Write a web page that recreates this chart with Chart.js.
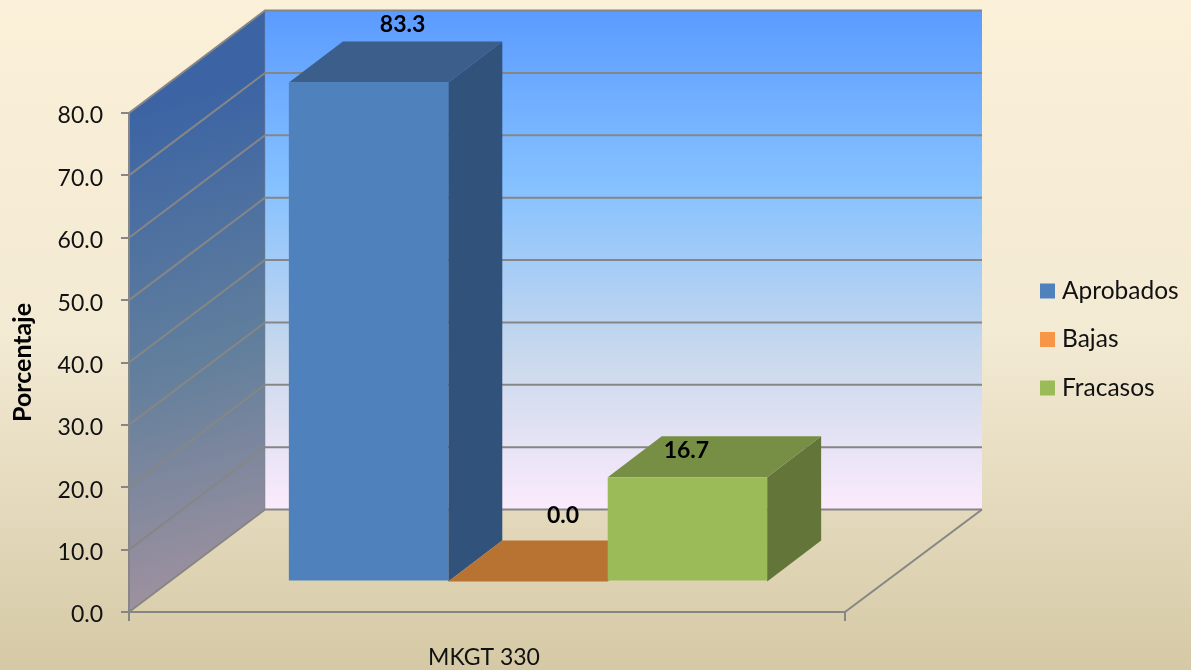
<!DOCTYPE html>
<html>
<head>
<meta charset="utf-8">
<title>MKGT 330</title>
<script src="https://cdn.jsdelivr.net/npm/chart.js@4/dist/chart.umd.min.js"></script>
<style>
html, body { margin: 0; padding: 0; background: #f3ead4; }
#wrap { width: 1191px; height: 670px; }
</style>
</head>
<body>
<div id="wrap"><canvas id="grafico"></canvas></div>
<script>
// datos
const categorias = ['MKGT 330'];
const seriesNombres = ['Aprobados', 'Bajas', 'Fracasos'];
const aprobados = [83.3];
const bajas = [0.0];
const fracasos = [16.7];
const escalaMax = 80;
const escalaPaso = 10;

// colores: frente, tapa, lado, leyenda
const coloresFrente = ['#4f81bd', '#b87333', '#9bbb59'];
const coloresTapa = ['#3b5f8a', '#b87333', '#778f45'];
const coloresLado = ['#31527a', '#b87333', '#637538'];
const coloresLeyenda = ['#4f81bd', '#f79646', '#9bbb59'];
const colorRejilla = '#868686';
const fuente = 'Lato, "Open Sans", sans-serif';

// profundidad de la caja 3D y de las barras
const fondoX = 136, fondoY = -102.5;
const barraX = 41, barraY = -30.5;
const barraProfX = 54, barraProfY = -41;
// ajuste de las etiquetas respecto al centro de la tapa
const ajusteEtiquetas = [[34, -58], [35, -66], [-1, -27]];

function poligono(ctx, puntos, relleno, borde) {
    ctx.beginPath();
    puntos.forEach((p, i) => i ? ctx.lineTo(p[0], p[1]) : ctx.moveTo(p[0], p[1]));
    ctx.closePath();
    if (relleno) {
        ctx.fillStyle = relleno;
        ctx.fill();
    }
    if (borde) {
        ctx.strokeStyle = borde;
        ctx.stroke();
    }
}

// fondo, paredes y suelo
const cajaPlugin = {
    id: 'caja3d',
    beforeDraw(chart) {
        const ctx = chart.ctx;
        const { left, right, top, bottom } = chart.chartArea;
        const y = chart.scales.y;
        ctx.save();

        const bg = ctx.createLinearGradient(0, 0, 0, chart.height);
        bg.addColorStop(0, '#fbf0d8');
        bg.addColorStop(0.5, '#f3ead4');
        bg.addColorStop(1, '#d5c9a5');
        ctx.fillStyle = bg;
        ctx.fillRect(0, 0, chart.width, chart.height);

        // pared del fondo
        const pared = ctx.createLinearGradient(0, top + fondoY, 0, bottom + fondoY);
        pared.addColorStop(0, '#5b9bff');
        pared.addColorStop(0.35, '#85c1ff');
        pared.addColorStop(0.7, '#cbd9ec');
        pared.addColorStop(1, '#fbebfc');
        ctx.fillStyle = pared;
        ctx.fillRect(left + fondoX, top + fondoY, right - left + 1, bottom - top);

        // pared izquierda
        const lateral = ctx.createLinearGradient(left, top, left + fondoX, bottom);
        lateral.addColorStop(0, '#3c64a4');
        lateral.addColorStop(0.5, '#627f9c');
        lateral.addColorStop(1, '#a8949f');
        poligono(ctx, [[left, bottom], [left + fondoX, bottom + fondoY], [left + fondoX, top + fondoY], [left, top]], lateral);

        // rejilla sobre las paredes
        ctx.lineWidth = 2;
        ctx.strokeStyle = colorRejilla;
        y.ticks.forEach(t => {
            const py = y.getPixelForValue(t.value);
            ctx.beginPath();
            ctx.moveTo(left, py);
            ctx.lineTo(left + fondoX, py + fondoY);
            ctx.lineTo(right + fondoX + 1, py + fondoY);
            ctx.stroke();
        });

        // bordes del suelo
        ctx.beginPath();
        ctx.moveTo(right, bottom);
        ctx.lineTo(right + fondoX + 1, bottom + fondoY);
        ctx.stroke();
        ctx.lineWidth = 1;
        ctx.strokeStyle = 'rgba(134,134,134,0.5)';
        ctx.beginPath();
        ctx.moveTo(left + fondoX, bottom + fondoY);
        ctx.lineTo(left + fondoX, top + fondoY);
        ctx.stroke();
        ctx.restore();
    },
    // caras de arriba y laterales antes que los frentes
    beforeDatasetsDraw(chart) {
        const ctx = chart.ctx;
        const y = chart.scales.y;
        ctx.save();
        chart.data.datasets.forEach((ds, i) => {
            const bar = chart.getDatasetMeta(i).data[0];
            const l = bar.x - bar.width / 2 + barraX;
            const r = bar.x + bar.width / 2 + barraX;
            const b = y.getPixelForValue(0) + barraY;
            const t = y.getPixelForValue(Math.min(ds.data[0], escalaMax)) + barraY;
            if (b - t > 0.5) {
                poligono(ctx, [[r, b], [r + barraProfX, b + barraProfY], [r + barraProfX, t + barraProfY], [r, t]], coloresLado[i]);
            }
            poligono(ctx, [[l, t], [r, t], [r + barraProfX, t + barraProfY], [l + barraProfX, t + barraProfY]], coloresTapa[i]);
        });
        // los frentes se dibujan desplazados hacia el interior de la caja
        ctx.restore();
        ctx.save();
        ctx.translate(barraX, barraY);
    },
    afterDatasetsDraw(chart) {
        chart.ctx.restore();
    },
    afterDraw(chart) {
        const ctx = chart.ctx;
        const y = chart.scales.y;
        ctx.save();

        // etiquetas de datos
        ctx.font = 'bold 23px ' + fuente;
        ctx.fillStyle = '#000';
        ctx.textAlign = 'center';
        ctx.textBaseline = 'middle';
        chart.data.datasets.forEach((ds, i) => {
            const bar = chart.getDatasetMeta(i).data[0];
            const t = y.getPixelForValue(Math.min(ds.data[0], escalaMax)) + barraY;
            ctx.fillText(ds.data[0].toFixed(1), bar.x + barraX + ajusteEtiquetas[i][0], t + ajusteEtiquetas[i][1]);
        });

        // leyenda
        ctx.font = '24.5px ' + fuente;
        ctx.textAlign = 'left';
        chart.data.datasets.forEach((ds, i) => {
            const ly = 291 + i * 48.5;
            ctx.fillStyle = coloresLeyenda[i];
            ctx.fillRect(1040, ly - 7.5, 15, 15);
            ctx.fillStyle = '#111';
            ctx.fillText(ds.label, 1062, ly);
        });
        ctx.restore();
    }
};

const datosSeries = [aprobados, bajas, fracasos];

new Chart(document.getElementById('grafico'), {
    type: 'bar',
    data: {
        labels: categorias,
        datasets: seriesNombres.map((nombre, i) => ({
            label: nombre,
            data: datosSeries[i],
            backgroundColor: coloresFrente[i],
            barPercentage: 1,
            categoryPercentage: 0.668
        }))
    },
    options: {
        responsive: true,
        maintainAspectRatio: false,
        animation: false,
        layout: { padding: { top: 113, right: 346, bottom: 0, left: 0 } },
        plugins: {
            legend: { display: false },
            tooltip: { enabled: false }
        },
        scales: {
            x: {
                afterFit: s => { s.height = 58; },
                border: { color: colorRejilla, width: 2 },
                grid: { offset: true, drawOnChartArea: false, color: colorRejilla, lineWidth: 2, tickLength: 9 },
                ticks: { color: '#111', font: { family: fuente, size: 23 }, padding: 23, labelOffset: -3 }
            },
            y: {
                min: 0,
                max: escalaMax,
                afterFit: s => { s.width = 129; },
                border: { color: colorRejilla, width: 2 },
                grid: { drawOnChartArea: false, color: colorRejilla, lineWidth: 2, tickLength: 8 },
                ticks: {
                    stepSize: escalaPaso,
                    color: '#111',
                    font: { family: fuente, size: 23 },
                    padding: 18,
                    labelOffset: 3,
                    callback: v => v.toFixed(1)
                },
                title: {
                    display: true,
                    text: 'Porcentaje',
                    color: '#000',
                    font: { family: fuente, size: 25, weight: 'bold' },
                    padding: { top: 8, bottom: 0 }
                }
            }
        }
    },
    plugins: [cajaPlugin]
});
</script>
</body>
</html>
